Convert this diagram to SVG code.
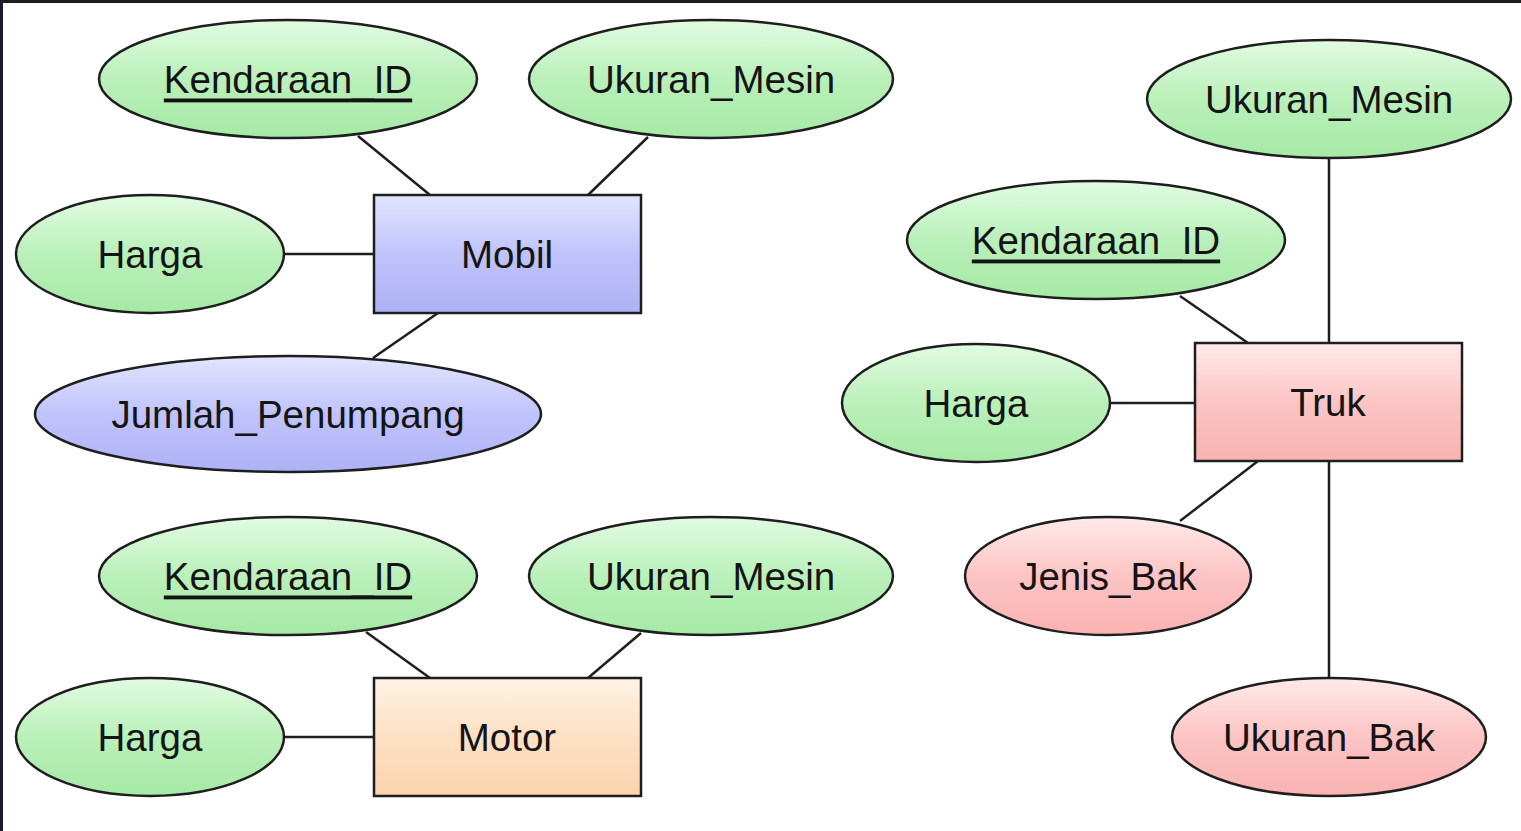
<svg xmlns="http://www.w3.org/2000/svg" width="1521" height="831" viewBox="0 0 1521 831">
<style>
.e{stroke:#1e1e1e;stroke-width:2.5}
.r{stroke:#1e1e1e;stroke-width:2.5}
.t{font-family:"Liberation Sans",Arial,Helvetica,sans-serif;font-size:38.5px;fill:#141414;text-anchor:middle;dominant-baseline:central}
.u{text-decoration:underline}
#connectors line{stroke:#1e1e1e;stroke-width:2.5}
</style>
<defs>
<linearGradient id="g" x1="0" y1="0" x2="0" y2="1"><stop offset="0" stop-color="#e2fbe2"/><stop offset="0.5" stop-color="#baf0ba"/><stop offset="1" stop-color="#a6e9a6"/></linearGradient>
<linearGradient id="b" x1="0" y1="0" x2="0" y2="1"><stop offset="0" stop-color="#e2e4ff"/><stop offset="0.5" stop-color="#c0c3fb"/><stop offset="1" stop-color="#aeb2f5"/></linearGradient>
<linearGradient id="p" x1="0" y1="0" x2="0" y2="1"><stop offset="0" stop-color="#ffeaea"/><stop offset="0.5" stop-color="#fcc4c4"/><stop offset="1" stop-color="#f9b2b2"/></linearGradient>
<linearGradient id="o" x1="0" y1="0" x2="0" y2="1"><stop offset="0" stop-color="#fff2e4"/><stop offset="0.5" stop-color="#fde0c4"/><stop offset="1" stop-color="#fbd3ad"/></linearGradient>
</defs>
<rect x="0" y="0" width="1521" height="831" fill="#ffffff"/>
<rect x="0" y="0" width="1521" height="3" fill="#1c1c1c"/>
<rect x="0" y="0" width="3" height="831" fill="#1c1c30"/>

<g id="connectors">
<line x1="358" y1="136" x2="430" y2="195"/>
<line x1="648" y1="137" x2="588" y2="195"/>
<line x1="284" y1="254" x2="374" y2="254"/>
<line x1="438" y1="313" x2="373" y2="358"/>
<line x1="366" y1="632" x2="430" y2="678"/>
<line x1="641" y1="633" x2="588" y2="678"/>
<line x1="284" y1="737" x2="374" y2="737"/>
<line x1="1329" y1="158" x2="1329" y2="343"/>
<line x1="1180" y1="296" x2="1248" y2="343"/>
<line x1="1110" y1="403" x2="1195" y2="403"/>
<line x1="1258" y1="461" x2="1180" y2="521"/>
<line x1="1329" y1="461" x2="1329" y2="679"/>
</g>

<g id="mobil"><rect class="r" x="374" y="195" width="267" height="118" fill="url(#b)"/><text class="t" x="507" y="254">Mobil</text></g>
<g id="mobil_kendaraan_id"><ellipse class="e" cx="288" cy="79" rx="189" ry="59" fill="url(#g)"/><text class="t u" x="288" y="79">Kendaraan_ID</text></g>
<g id="mobil_ukuran_mesin"><ellipse class="e" cx="711" cy="79" rx="182" ry="59" fill="url(#g)"/><text class="t" x="711" y="79">Ukuran_Mesin</text></g>
<g id="mobil_harga"><ellipse class="e" cx="150" cy="254" rx="134" ry="59" fill="url(#g)"/><text class="t" x="150" y="254">Harga</text></g>
<g id="mobil_jumlah_penumpang"><ellipse class="e" cx="288" cy="414" rx="253" ry="58" fill="url(#b)"/><text class="t" x="288" y="414">Jumlah_Penumpang</text></g>

<g id="motor"><rect class="r" x="374" y="678" width="267" height="118" fill="url(#o)"/><text class="t" x="507" y="737">Motor</text></g>
<g id="motor_kendaraan_id"><ellipse class="e" cx="288" cy="576" rx="189" ry="59" fill="url(#g)"/><text class="t u" x="288" y="576">Kendaraan_ID</text></g>
<g id="motor_ukuran_mesin"><ellipse class="e" cx="711" cy="576" rx="182" ry="59" fill="url(#g)"/><text class="t" x="711" y="576">Ukuran_Mesin</text></g>
<g id="motor_harga"><ellipse class="e" cx="150" cy="737" rx="134" ry="59" fill="url(#g)"/><text class="t" x="150" y="737">Harga</text></g>

<g id="truk"><rect class="r" x="1195" y="343" width="267" height="118" fill="url(#p)"/><text class="t" x="1328" y="402">Truk</text></g>
<g id="truk_ukuran_mesin"><ellipse class="e" cx="1329" cy="99" rx="182" ry="59" fill="url(#g)"/><text class="t" x="1329" y="99">Ukuran_Mesin</text></g>
<g id="truk_kendaraan_id"><ellipse class="e" cx="1096" cy="240" rx="189" ry="59" fill="url(#g)"/><text class="t u" x="1096" y="240">Kendaraan_ID</text></g>
<g id="truk_harga"><ellipse class="e" cx="976" cy="403" rx="134" ry="59" fill="url(#g)"/><text class="t" x="976" y="403">Harga</text></g>
<g id="truk_jenis_bak"><ellipse class="e" cx="1108" cy="576" rx="143" ry="59" fill="url(#p)"/><text class="t" x="1108" y="576">Jenis_Bak</text></g>
<g id="truk_ukuran_bak"><ellipse class="e" cx="1329" cy="737" rx="157" ry="59" fill="url(#p)"/><text class="t" x="1329" y="737">Ukuran_Bak</text></g>
</svg>
